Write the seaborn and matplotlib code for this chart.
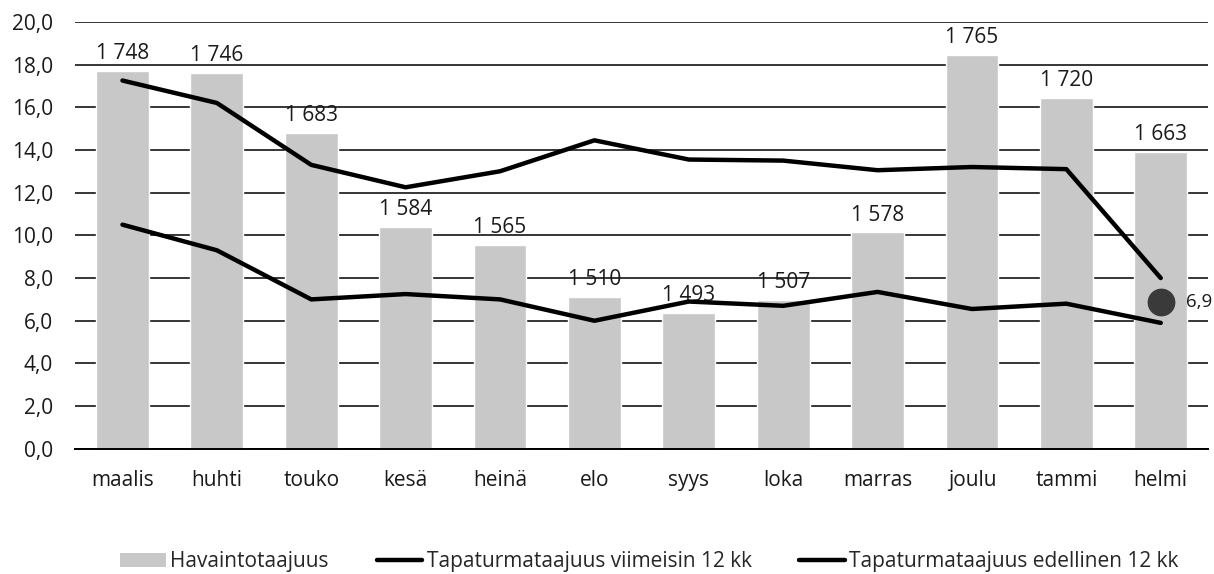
import numpy as np
import matplotlib
matplotlib.use('Agg')
import matplotlib.pyplot as plt
import seaborn as sns
from matplotlib.ticker import FuncFormatter
from matplotlib.patches import Patch
from matplotlib.lines import Line2D


# Kuukaudet ja sarjat
months = ['maalis', 'huhti', 'touko', 'kesä', 'heinä', 'elo',
          'syys', 'loka', 'marras', 'joulu', 'tammi', 'helmi']
havainnot = [1748, 1746, 1683, 1584, 1565, 1510, 1493, 1507, 1578, 1765, 1720, 1663]
viimeisin = [17.25, 16.2, 13.3, 12.25, 13.0, 14.45, 13.55, 13.5, 13.05, 13.2, 13.1, 8.0]
edellinen = [10.5, 9.3, 7.0, 7.25, 7.0, 6.0, 6.9, 6.7, 7.35, 6.55, 6.8, 5.9]
tavoite_value = 6.9

bar_color = '#c8c8c8'
line_color = '#000000'
dot_color = '#3a3a3a'
text_color = '#1a1a1a'
fs = 15


def fi_num(v, decimals=0):
    # suomalainen muotoilu: välilyönti tuhaterottimena, pilkku desimaalina
    s = f'{v:,.{decimals}f}'
    return s.replace(',', ' ').replace('.', ',')


sns.set_theme(style='white')
plt.rcParams['font.family'] = ['Open Sans', 'DejaVu Sans']
plt.rcParams['font.size'] = fs

fig = plt.figure(figsize=(12.14, 5.74), dpi=100)
ax = fig.add_axes([0.062, 0.218, 0.933, 0.744])

# alin kerros: ruudukko ja y-akseli
ax.set_ylim(0, 20)
ax.set_yticks(np.arange(0, 21, 2))
ax.yaxis.set_major_formatter(FuncFormatter(lambda v, p: fi_num(v, 1)))
ax.grid(axis='y', color='black', linewidth=1.1)
ax.grid(axis='x', visible=False)
for s in ax.spines.values():
    s.set_visible(False)
ax.tick_params(axis='both', length=0, labelsize=fs, colors=text_color)
ax.tick_params(axis='y', pad=16)
ax.tick_params(axis='x', pad=15)

# keskikerros: pylväät omalla (piilotetulla) asteikolla
ax_bar = ax.twinx()
sns.barplot(x=months, y=havainnot, color=bar_color, width=0.56,
            saturation=1, ax=ax_bar)
ax_bar.set_ylim(1350, 1800)
ax_bar.yaxis.set_visible(False)
for s in ax_bar.spines.values():
    s.set_visible(False)
ax_bar.bar_label(ax_bar.containers[0], labels=[fi_num(v) for v in havainnot],
                 padding=5, fontsize=fs, color=text_color)

# ylin kerros: viivat
ax_line = ax.twinx()
x_pos = np.arange(len(months))
sns.lineplot(x=x_pos, y=viimeisin, color=line_color, linewidth=3.2, ax=ax_line)
sns.lineplot(x=x_pos, y=edellinen, color=line_color, linewidth=3.2, ax=ax_line)
ax_line.plot([x_pos[-1]], [tavoite_value], 'o', color=dot_color, markersize=19)
ax_line.text(x_pos[-1] + 0.27, tavoite_value, fi_num(tavoite_value, 1),
             va='center', ha='left', fontsize=13.5, color=text_color, clip_on=False)
ax_line.set_ylim(0, 20)
ax_line.yaxis.set_visible(False)
for name, s in ax_line.spines.items():
    s.set_visible(name == 'bottom')
ax_line.spines['bottom'].set_color('black')
ax_line.spines['bottom'].set_linewidth(1.4)

ax.set_xlim(-0.5, len(months) - 0.5)
ax.set_xticks(x_pos)
ax.set_xticklabels(months)
ax.set_xlabel('')

handles = [
    Patch(facecolor=bar_color, edgecolor='none'),
    Line2D([0], [0], color=line_color, linewidth=3.2),
    Line2D([0], [0], color=line_color, linewidth=3.2),
]
labels = ['Havaintotaajuus', 'Tapaturmataajuus viimeisin 12 kk',
          'Tapaturmataajuus edellinen 12 kk']
fig.legend(handles, labels, loc='lower center', bbox_to_anchor=(0.535, -0.03),
           ncol=3, frameon=False, fontsize=fs, handlelength=2.2,
           handletextpad=0.2, columnspacing=2.3)

fig.savefig('out.png', dpi=100)
